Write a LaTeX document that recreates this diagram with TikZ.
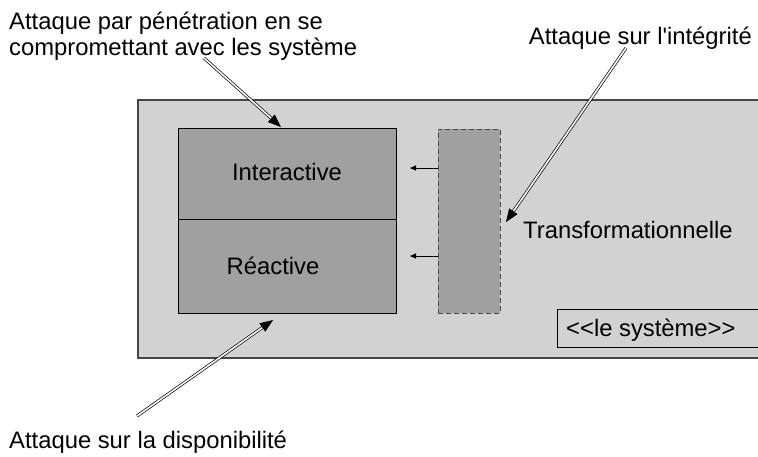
\documentclass[tikz,border=0pt]{standalone}
\usepackage{fontspec}
\setmainfont{Liberation Sans}
\usetikzlibrary{arrows.meta,calc}
\definecolor{sysfill}{RGB}{210,210,210}
\definecolor{boxfill}{RGB}{160,160,160}
\definecolor{sysline}{RGB}{70,70,70}
\begin{document}
\begin{tikzpicture}[x=1pt,y=-1pt,
 lbl/.style={inner sep=0pt, font=\fontsize{23.8}{26}\selectfont},
 dbl/.style={double=white, double distance=1.6pt, line width=0.7pt, draw=black},
 bigtip/.style={-{Triangle[length=13pt,width=10pt]}, line width=0.5pt},
 smalltip/.style={-{Triangle[length=6pt,width=5pt]}, line width=0.9pt},
 rbox/.style={draw=black, line width=0.9pt, anchor=north west, inner sep=0pt}]
\useasboundingbox (0,0) rectangle (758,456);
% outer system
\node[rbox, draw=sysline, line width=1.5pt, fill=sysfill, minimum width=640pt, minimum height=258pt] (sys) at (137,99) {};
% inner boxes
\node[rbox, fill=boxfill, minimum width=218pt, minimum height=91pt] (inter) at (178,128) {};
\node[rbox, fill=boxfill, minimum width=218pt, minimum height=94pt] (react) at (178,219) {};
\node[rbox, fill=boxfill, dashed, draw=sysline, dash pattern=on 5pt off 3pt, minimum width=62pt, minimum height=184pt] (trans) at (438,129) {};
\node[rbox, minimum width=220pt, minimum height=38pt] (lesys) at (557,309) {};
% texts
\node[lbl, anchor=base] (tinter) at (287,180) {Interactive};
\node[lbl, anchor=base] (treact) at (273,274) {Réactive};
\node[lbl, anchor=base west] (ttrans) at (523,238) {Transformationnelle};
\node[lbl, anchor=base west] (tlesys) at (566,336) {<{}<le système>{}>};
\node[lbl, anchor=base west] (tpen1) at (9,29) {Attaque par pénétration en se};
\node[lbl, anchor=base west] (tpen2) at (9,55) {compromettant avec les système};
\node[lbl, anchor=base east] (tint) at (752,44) {Attaque sur l\textquotesingle intégrité};
\node[lbl, anchor=base west] (tdisp) at (9,448) {Attaque sur la disponibilité};
% small arrows
\coordinate (s1a) at (438,168); \coordinate (s1b) at (410,168);
\coordinate (s2a) at (438,256); \coordinate (s2b) at (410,256);
\draw[smalltip] (s1a) -- (s1b);
\draw[smalltip] (s2a) -- (s2b);
% double arrows
\coordinate (a1s) at (204,58); \coordinate (a1e) at (281,127);
\coordinate (a2s) at (626,48); \coordinate (a2e) at (506,222);
\coordinate (a3s) at (137,416); \coordinate (a3e) at (273,320);
\foreach \s/\e in {a1s/a1e,a2s/a2e,a3s/a3e}{
  \draw[dbl, shorten >=10pt] (\s) -- (\e);
  \draw[bigtip] ($(\e)!12pt!(\s)$) -- (\e);
}
\end{tikzpicture}
\end{document}
